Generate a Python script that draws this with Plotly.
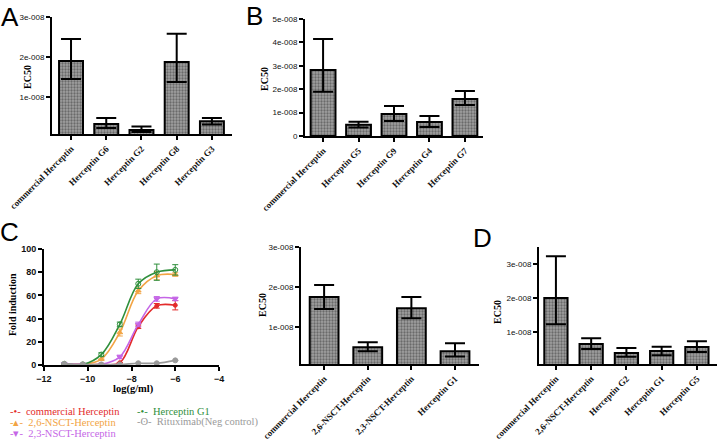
import plotly.graph_objects as go

W, H = 717, 444

# ---- data ----
a_names = ['commercial Herceptin', 'Herceptin G6', 'Herceptin G2', 'Herceptin G8', 'Herceptin G3']
a_ec50 = [1.90e-8, 0.33e-8, 0.18e-8, 1.88e-8, 0.40e-8]
a_err_up = [0.55e-8, 0.15e-8, 0.09e-8, 0.70e-8, 0.08e-8]
a_err_dn = [0.45e-8, 0.10e-8, 0.05e-8, 0.50e-8, 0.08e-8]

b_names = ['commercial Herceptin', 'Herceptin G5', 'Herceptin G9', 'Herceptin G4', 'Herceptin G7']
b_ec50 = [2.82e-8, 0.48e-8, 0.94e-8, 0.60e-8, 1.58e-8]
b_err_up = [1.33e-8, 0.13e-8, 0.34e-8, 0.25e-8, 0.34e-8]
b_err_dn = [0.93e-8, 0.12e-8, 0.30e-8, 0.22e-8, 0.26e-8]

m_names = ['commercial Herceptin', '2,6-NSCT-Herceptin', '2,3-NSCT-Herceptin', 'Herceptin G1']
m_ec50 = [1.75e-8, 0.50e-8, 1.47e-8, 0.40e-8]
m_err_up = [0.30e-8, 0.12e-8, 0.28e-8, 0.20e-8]
m_err_dn = [0.30e-8, 0.10e-8, 0.25e-8, 0.13e-8]

d_names = ['commercial Herceptin', '2,6-NSCT-Herceptin', 'Herceptin G2', 'Herceptin G1', 'Herceptin G5']
d_ec50 = [2.00e-8, 0.65e-8, 0.38e-8, 0.44e-8, 0.56e-8]
d_err_up = [1.23e-8, 0.17e-8, 0.15e-8, 0.13e-8, 0.17e-8]
d_err_dn = [0.77e-8, 0.15e-8, 0.11e-8, 0.12e-8, 0.15e-8]

# panel C: dose response, log(g/ml)
c_logdose = [-11.07, -10.225, -9.38, -8.535, -7.69, -6.845, -6.0]
c_commercial = [0.5, 0.5, 0.5, 2.0, 33.0, 51.0, 51.5]
c_commercial_err = [0, 0, 0, 0, 1.5, 2.0, 4.0]
c_g1 = [1.0, 0.5, 9.0, 35.0, 70.0, 80.0, 82.0]
c_g1_err = [0, 0, 1.5, 2.0, 4.0, 7.0, 4.5]
c_26 = [1.0, 0.5, 5.0, 28.0, 64.0, 77.0, 78.0]
c_26_err = [0, 0, 0, 3.0, 2.5, 3.5, 1.5]
c_23 = [1.0, 0.5, 0.5, 7.0, 35.0, 57.0, 57.0]
c_23_err = [0, 0, 0, 1.5, 2.0, 2.0, 1.5]
c_ritux = [1.0, 0.5, 0.5, 0.5, 1.5, 1.5, 4.0]

ec_ticks = [0, 1e-8, 2e-8, 3e-8, 4e-8, 5e-8]
ec_labels = ['0', '1e-008', '2e-008', '3e-008', '4e-008', '5e-008']


def dx(a, b):
    return [a / W, b / W]


def dy(top, bottom):
    return [1 - bottom / H, 1 - top / H]


fig = go.Figure()

bar_marker = dict(
    color='#909090',
    line=dict(color='black', width=2),
    pattern=dict(shape='.', bgcolor='#a0a0a0', fgcolor='#333333', size=3, solidity=0.45),
)


def add_bars(names, vals, up, dn, n, width):
    fig.add_trace(go.Bar(
        x=names, y=vals, xaxis='x' + n, yaxis='y' + n, width=width,
        marker=bar_marker, showlegend=False,
        error_y=dict(type='data', array=up, arrayminus=dn, symmetric=False,
                     color='black', thickness=2, width=10),
    ))


add_bars(a_names, a_ec50, a_err_up, a_err_dn, '', 0.68)
add_bars(b_names, b_ec50, b_err_up, b_err_dn, '2', 0.7)
add_bars(m_names, m_ec50, m_err_up, m_err_dn, '4', 0.66)
add_bars(d_names, d_ec50, d_err_up, d_err_dn, '5', 0.66)

series = [
    (c_commercial, c_commercial_err, '#e32b2b', 'circle', 4),
    (c_26, c_26_err, '#f2a444', 'triangle-up', 5),
    (c_23, c_23_err, '#c566e6', 'triangle-down', 5),
    (c_g1, c_g1_err, '#2f8f3c', 'circle-open', 5),
    (c_ritux, [0] * 7, '#9a9a9a', 'circle', 5),
]
for ys, errs, col, sym, sz in series:
    fig.add_trace(go.Scatter(
        x=c_logdose, y=ys, xaxis='x3', yaxis='y3', mode='lines+markers',
        line=dict(color=col, width=1.6, shape='spline', smoothing=1.0),
        marker=dict(color=col, symbol=sym, size=sz, line=dict(color=col, width=1)),
        error_y=dict(type='data', array=errs, color=col, thickness=1, width=3),
        showlegend=False,
    ))

tick_font = dict(family='Liberation Sans', size=8, color='#111')
cat_font = dict(family='Liberation Serif', size=9, color='#111', weight='bold')
num_font = dict(family='Liberation Sans', size=9, color='#111', weight='bold')
axis_common = dict(showline=True, linecolor='black', linewidth=2, ticks='outside',
                   ticklen=4, tickwidth=1.5, tickcolor='black', showgrid=False,
                   zeroline=False, automargin=False)

fig.update_layout(
    width=W, height=H,
    margin=dict(l=0, r=0, t=0, b=0, autoexpand=False),
    paper_bgcolor='white', plot_bgcolor='white',
    xaxis=dict(domain=dx(52, 232), anchor='y', type='category', range=[-0.54, 4.57],
               tickangle=-45, tickfont=cat_font, **axis_common),
    yaxis=dict(domain=dy(17, 134), anchor='x', range=[0.08e-8, 3e-8],
               tickvals=ec_ticks[1:4], ticktext=ec_labels[1:4], tickfont=tick_font, **axis_common),
    xaxis2=dict(domain=dx(305, 483), anchor='y2', type='category', range=[-0.51, 4.51],
                tickangle=-45, tickfont=cat_font, **axis_common),
    yaxis2=dict(domain=dy(19, 136), anchor='x2', range=[0, 5e-8],
                tickvals=ec_ticks, ticktext=ec_labels, tickfont=tick_font, **axis_common),
    xaxis3=dict(domain=dx(44, 219), anchor='y3', range=[-12, -4],
                tickvals=[-12, -10, -8, -6, -4], tickfont=num_font, **axis_common),
    yaxis3=dict(domain=dy(249, 365), anchor='x3', range=[0, 100],
                tickvals=[0, 20, 40, 60, 80, 100], tickfont=num_font, **axis_common),
    xaxis4=dict(domain=dx(301, 479), anchor='y4', type='category', range=[-0.53, 3.55],
                tickangle=-45, tickfont=cat_font, **axis_common),
    yaxis4=dict(domain=dy(247, 364), anchor='x4', range=[0.08e-8, 3e-8],
                tickvals=ec_ticks[1:4], ticktext=ec_labels[1:4], tickfont=tick_font, **axis_common),
    xaxis5=dict(domain=dx(539, 717), anchor='y5', type='category', range=[-0.48, 4.57],
                tickangle=-45, tickfont=cat_font, **axis_common),
    yaxis5=dict(domain=dy(247, 364), anchor='x5', range=[0.06e-8, 3.5e-8],
                tickvals=ec_ticks[1:4], ticktext=ec_labels[1:4], tickfont=tick_font, **axis_common),
)

ann = []


def txt(x, y, s, size=10, angle=0, family='Liberation Serif', color='black', xanchor='center'):
    ann.append(dict(x=x / W, y=1 - y / H, xref='paper', yref='paper', text=s, showarrow=False,
                    font=dict(family=family, size=size, color=color), textangle=angle,
                    xanchor=xanchor, yanchor='middle'))


# panel letters
txt(10, 17, 'A', size=26, family='Liberation Sans')
txt(254, 16, 'B', size=26, family='Liberation Sans')
txt(9, 232, 'C', size=26, family='Liberation Sans')
txt(482, 238, 'D', size=26, family='Liberation Sans')

# axis titles
txt(27, 77, '<b>EC50</b>', angle=-90)
txt(265, 79, '<b>EC50</b>', angle=-90)
txt(12, 305, '<b>Fold induction</b>', angle=-90)
txt(133, 389, '<b>log(g/ml)</b>', size=10.5)
txt(262, 305, '<b>EC50</b>', angle=-90)
txt(497, 312, '<b>EC50</b>', angle=-90)

# legend
legend_items = [
    (8, 411, '#e32b2b', '•', 'commercial Herceptin'),
    (8, 422, '#f2a444', '▴', '2,6-NSCT-Herceptin'),
    (8, 433, '#c566e6', '▾', '2,3-NSCT-Herceptin'),
    (135, 411, '#2f8f3c', '•', 'Herceptin G1'),
    (135, 422, '#9a9a9a', 'ʘ', 'Rituximab(Neg control)'),
]
for x, y, col, sym, name in legend_items:
    txt(x, y, '<span style="color:%s">-%s-</span>  %s' % (col, sym, name), size=10.5,
        color=col, xanchor='left')

fig.update_layout(annotations=ann)

fig.write_html('out.html', config={'displayModeBar': False},
               post_script="document.body.style.margin='0px';")
